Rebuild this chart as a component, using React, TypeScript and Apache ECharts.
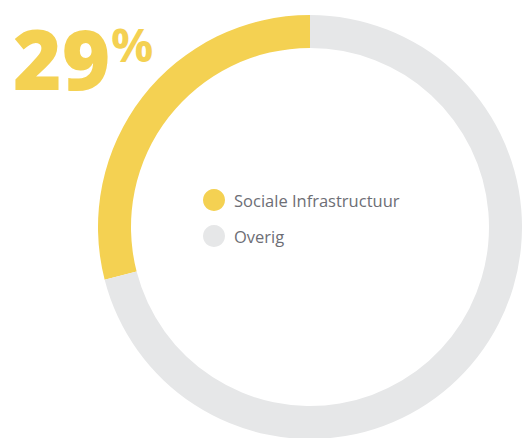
import React, { useEffect, useRef } from "react";
import * as echarts from "echarts";

const categories = ["Sociale Infrastructuur", "Overig"];
const values = [29, 71];
const colors = ["#F4D152", "#E6E7E8"];

export default function App() {
  const ref = useRef<HTMLDivElement>(null);
  useEffect(() => {
    document.body.style.margin = "0";
    const chart = echarts.init(ref.current!, null, { renderer: "svg" });
    const total = values.reduce((a, b) => a + b, 0);
    const pct = Math.round((values[0] / total) * 100);
    chart.setOption({
      animation: false,
      legend: {
        orient: "vertical",
        left: 203,
        top: 189,
        padding: 0,
        itemWidth: 22,
        itemHeight: 22,
        itemGap: 14,
        icon: "circle",
        selectedMode: false,
        data: categories,
        textStyle: {
          fontFamily: "Open Sans",
          fontSize: 16.5,
          color: "#6D6E75",
          padding: [3, 0, 0, 4],
        },
      },
      graphic: [
        {
          type: "text",
          left: 13,
          top: 16,
          style: {
            text: String(pct),
            fontFamily: "Open Sans",
            fontWeight: 800,
            fontSize: 83,
            fill: colors[0],
          },
        },
        {
          type: "text",
          left: 111,
          top: 20,
          style: {
            text: "%",
            fontFamily: "Open Sans",
            fontWeight: 700,
            fontSize: 47,
            fill: colors[0],
          },
        },
      ],
      series: [
        {
          type: "pie",
          center: [310, 227],
          radius: [179, 212],
          startAngle: 90,
          clockwise: false,
          silent: true,
          label: { show: false },
          labelLine: { show: false },
          emphasis: { disabled: true },
          data: categories.map((name, i) => ({
            name,
            value: values[i],
            itemStyle: { color: colors[i] },
          })),
        },
      ],
    });
    return () => chart.dispose();
  }, []);
  return <div ref={ref} style={{ width: 522, height: 438 }} />;
}
